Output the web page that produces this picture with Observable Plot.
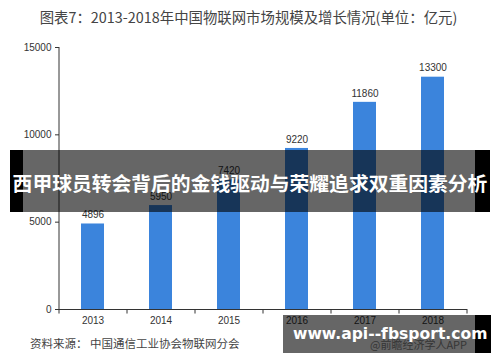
<!DOCTYPE html>
<html>
<head>
<meta charset="utf-8">
<script src="https://cdn.jsdelivr.net/npm/d3@7"></script>
<script src="https://cdn.jsdelivr.net/npm/@observablehq/plot@0.6"></script>
<style>
  html, body { margin: 0; padding: 0; background: #fff; }
  #wrap { position: relative; width: 500px; height: 362px; overflow: hidden; background: #fff; }
  #wrap svg { position: absolute; left: 0; top: 0; }
  .abs { position: absolute; white-space: nowrap; }
</style>
</head>
<body>
<div id="wrap"></div>
<script>
const years = ["2013", "2014", "2015", "2016", "2017", "2018"];
const values = [4896, 5950, 7420, 9220, 11860, 13300];
const yTicks = [0, 5000, 10000, 15000];
const titleText = "图表7：2013-2018年中国物联网市场规模及增长情况(单位：亿元)";
const sourceText = "资料来源：  中国通信工业协会物联网分会";
const bannerText = "西甲球员转会背后的金钱驱动与荣耀追求双重因素分析";
const siteText = "www.api--fbsport.com";
const markText = "@前瞻经济学人APP";

const data = years.map((y, i) => ({year: y, value: values[i]}));
const ink = "#333";
const step = (467 - 59) / years.length;

const chart = Plot.plot({
  width: 500,
  height: 362,
  marginLeft: 59,
  marginRight: 33,
  marginTop: 47,
  marginBottom: 53,
  style: {fontFamily: "'Liberation Sans', Arial, sans-serif", fontSize: "10px", color: ink, background: "transparent"},
  x: {domain: years, paddingInner: 0.66, paddingOuter: 0.33, label: null},
  y: {domain: [0, 15000], label: null},
  marks: [
    Plot.barY(data, {x: "year", y: "value", fill: "#3b84dc"}),
    Plot.text(data, {x: "year", y: "value", text: d => String(d.value), dy: -9, fill: ink, fontSize: 10}),
    Plot.ruleY([0], {stroke: ink, strokeWidth: 1}),
    Plot.ruleX(years, {x: d => d, dx: step / 2, y1: 0, y2: -260, stroke: ink}),
    Plot.ruleX([years[0]], {x: d => d, dx: -step / 2, y1: -260, y2: 15000, stroke: ink}),
    Plot.axisY({ticks: yTicks, tickSize: 4, tickPadding: 4, tickFormat: d => String(d), fill: ink, stroke: ink, label: null}),
    Plot.axisX({tickSize: 0, tickPadding: 7, fill: ink, label: null})
  ]
});

const wrap = document.getElementById("wrap");
wrap.appendChild(chart);

function add(text, css) {
  const d = document.createElement("div");
  d.className = "abs";
  d.textContent = text || "";
  Object.assign(d.style, css);
  wrap.appendChild(d);
  return d;
}

// title
add(titleText, {left: "0", width: "497px", textAlign: "center", top: "7px", fontFamily: "'Noto Sans CJK SC', sans-serif", fontSize: "14.4px", lineHeight: "20px", color: "#444"});
// source
add(sourceText, {left: "30px", top: "335px", fontFamily: "'Noto Sans CJK SC', sans-serif", fontSize: "11.5px", lineHeight: "16px", color: "#444"});
// underlying watermark text
add(markText, {left: "370px", top: "337px", fontFamily: "'Noto Sans CJK SC', sans-serif", fontSize: "11px", lineHeight: "14px", color: "#888"});

// banner overlay
add("", {left: "10px", top: "150px", width: "13px", height: "62px", background: "#000"});
add("", {left: "23px", top: "150px", width: "452px", height: "62px", background: "rgba(0,0,0,0.6)"});
add("", {left: "475px", top: "150px", width: "15px", height: "62px", background: "#000"});
add(bannerText, {left: "10px", width: "480px", textAlign: "center", top: "170px", fontFamily: "'Noto Sans CJK SC', sans-serif", fontWeight: "700", fontSize: "19.8px", lineHeight: "26px", color: "#fff"});

// bottom right overlay
add("", {left: "283px", top: "315px", width: "192px", height: "38px", background: "rgba(0,0,0,0.6)"});
add("", {left: "475px", top: "315px", width: "16px", height: "38px", background: "#000"});
add(siteText, {left: "293px", top: "322px", fontFamily: "'DejaVu Sans', sans-serif", fontWeight: "700", fontSize: "15.6px", lineHeight: "24px", color: "#fff"});
</script>
</body>
</html>
